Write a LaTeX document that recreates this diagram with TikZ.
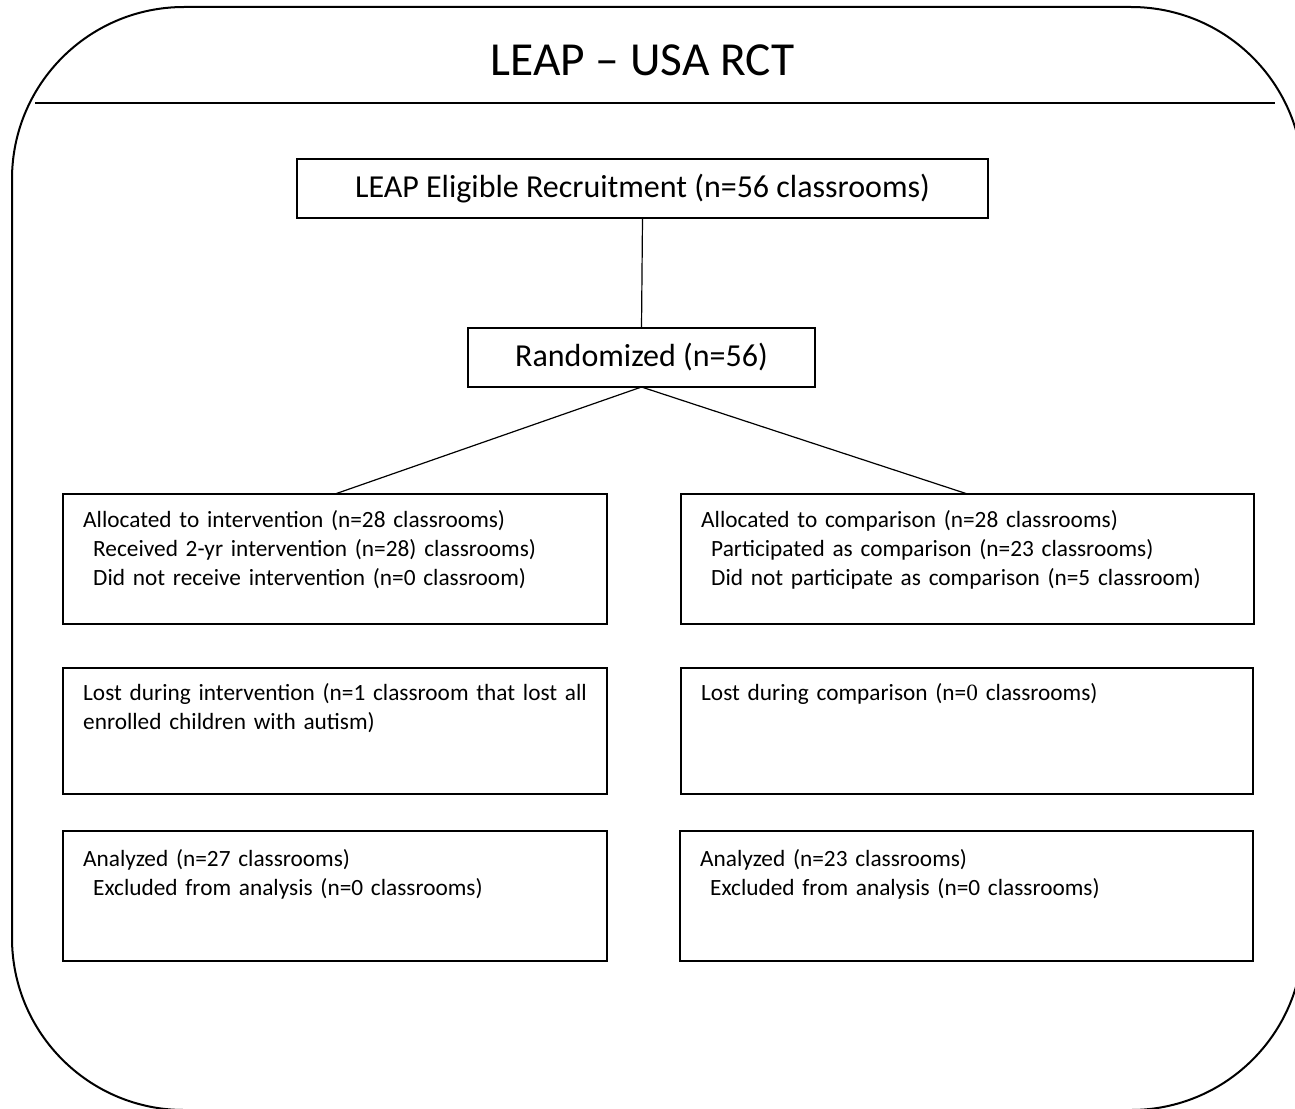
\documentclass[tikz,border=0pt]{standalone}
\usepackage{fontspec}
\setmainfont{Carlito}
\newfontfamily\zeroserif{Liberation Serif}
\begin{document}
\begin{tikzpicture}[x=1pt,y=-1pt,
  box/.style={draw, line width=1.5pt, rectangle, inner sep=0pt, outer sep=0pt, anchor=north west},
  bigbox/.style={draw, line width=1.5pt, rectangle, inner sep=0pt, outer sep=0pt, anchor=center, font=\fontsize{32}{38}\selectfont},
  txt/.style={anchor=base west, inner sep=0pt, text width=600pt, align=left, font=\fontsize{23.3}{29}\selectfont},
  conn/.style={line width=1.2pt}]
\useasboundingbox (0,0) rectangle (1295,1108);
% outer frame
\draw[line width=2pt, rounded corners=172pt] (12,7) rectangle (1303,1110);
\draw[line width=1.6pt] (35,103) -- (1275,103);
\node[anchor=base, inner sep=0pt, font=\fontsize{47.4}{52}\selectfont] (title) at (642.5,75) {LEAP – USA RCT};

% top boxes
\node[bigbox, minimum width=691pt, minimum height=59pt] (b1) at (642.5,188.5) {LEAP Eligible Recruitment (n=56 classrooms)};
\node[bigbox, minimum width=347pt, minimum height=59pt] (b2) at (641.5,357.5) {Randomized (n=56)};

% group boxes
\node[box, minimum width=544pt, minimum height=130pt] (b3) at (63,494) {};
\node[box, minimum width=573pt, minimum height=130pt] (b4) at (681,494) {};
\node[box, minimum width=544pt, minimum height=126pt] (b5) at (63,668) {};
\node[box, minimum width=572pt, minimum height=126pt] (b6) at (681,668) {};
\node[box, minimum width=544pt, minimum height=130pt] (b7) at (63,831) {};
\node[box, minimum width=573pt, minimum height=130pt] (b8) at (680,831) {};

% texts
\node[txt] (t3) at (83,527) {Allocated to intervention (n=28 classrooms)\\
\hspace*{10pt}Received 2-yr intervention (n=28) classrooms)\\
\hspace*{10pt}Did not receive intervention (n=0 classroom)};
\node[txt] (t4) at (701,527) {Allocated to comparison (n=28 classrooms)\\
\hspace*{10pt}Participated as comparison (n=23 classrooms)\\
\hspace*{10pt}Did not participate as comparison (n=5 classroom)};
\node[txt] (t5) at (83,700) {Lost during intervention (n=1 classroom that lost all\\
enrolled children with autism)};
\node[txt] (t6) at (701,700) {Lost during comparison (n={\zeroserif 0} classrooms)};
\node[txt] (t7) at (83,866) {Analyzed (n=27 classrooms)\\
\hspace*{10pt}Excluded from analysis (n=0 classrooms)};
\node[txt] (t8) at (700,866) {Analyzed (n=23 classrooms)\\
\hspace*{10pt}Excluded from analysis (n=0 classrooms)};

% connectors
\draw[conn] (b1.south) -- (b2.north);
\draw[conn] (b2.south) -- (b3.north);
\draw[conn] (b2.south) -- (b4.north);
\end{tikzpicture}
\end{document}
